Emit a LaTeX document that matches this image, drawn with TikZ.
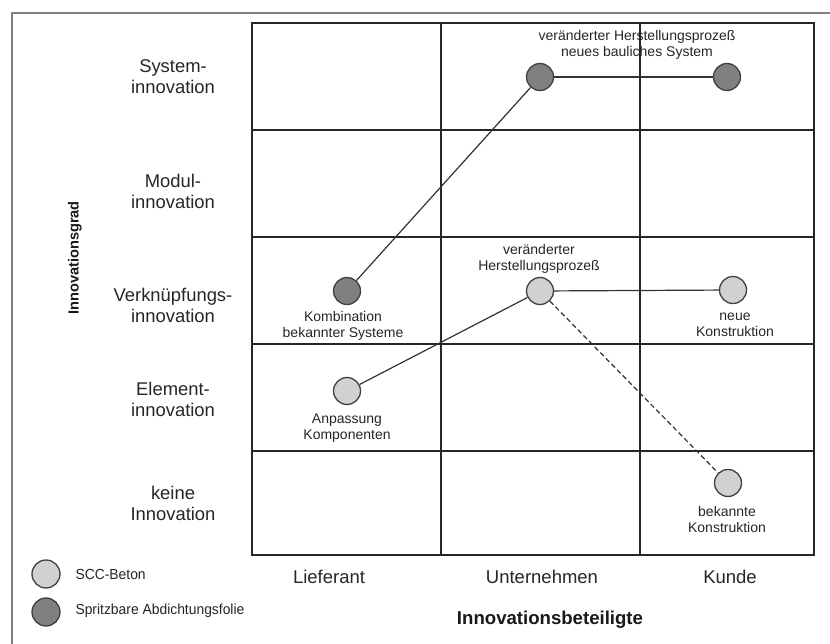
\documentclass[tikz,border=0pt]{standalone}
\usepackage{fontspec}
\setmainfont{Liberation Sans}
\newfontfamily\legendfont{Liberation Sans}[FakeStretch=0.95]
\begin{document}
\begin{tikzpicture}[x=1pt,y=-1pt,
  gridline/.style={draw=black!85, line width=1.4pt},
  frameline/.style={draw=black!50, line width=1.4pt},
  dot/.style={circle, minimum size=27pt, inner sep=0pt, draw=black!75, line width=1.3pt},
  scc/.style={dot, fill=black!18},
  folie/.style={dot, fill=black!50},
  link/.style={draw=black!80, line width=1.2pt},
  lbl/.style={align=center, font=\fontsize{14}{16}\selectfont, text=black!85},
  rowlbl/.style={align=center, font=\fontsize{18.4}{21}\selectfont, text=black!85},
  collbl/.style={font=\fontsize{18.5}{20}\selectfont, text=black!85},
  leg/.style={anchor=west, font=\legendfont\fontsize{14.6}{16}\selectfont, text=black!85},
]
\useasboundingbox (0,0) rectangle (830,644);
\fill[white] (0,0) rectangle (830,644);

% outer frame
\draw[frameline] (12,644) -- (12,13) -- (830,13);

% matrix grid
\draw[gridline] (252,23) rectangle (814,555);
\foreach \x in {441,640} \draw[gridline] (\x,23) -- (\x,555);
\foreach \y in {130,237,344,451} \draw[gridline] (252,\y) -- (814,\y);

% row labels (degree of innovation)
\node[rowlbl] (r1) at (173,77) {System-\\innovation};
\node[rowlbl] (r2) at (173,191) {Modul-\\innovation};
\node[rowlbl] (r3) at (173,305) {Verknüpfungs-\\innovation};
\node[rowlbl] (r4) at (173,399) {Element-\\innovation};
\node[rowlbl] (r5) at (173,503) {keine\\Innovation};
\node[rotate=90, text=black!90, font=\bfseries\fontsize{14.6}{16}\selectfont] (ylab) at (75,258) {Innovationsgrad};

% column labels (participants)
\node[collbl] (c1) at (329,577) {Lieferant};
\node[collbl] (c2) at (542,577) {Unternehmen};
\node[collbl] (c3) at (730,577) {Kunde};
\node[text=black!90, font=\bfseries\fontsize{18.6}{20}\selectfont] (xlab) at (550,620) {Innovationsbeteiligte};

% Spritzbare Abdichtungsfolie
\node[folie] (f1) at (347,291) {};
\node[folie] (f2) at (540,77) {};
\node[folie] (f3) at (727,77) {};

% SCC-Beton
\node[scc] (s1) at (347,391) {};
\node[scc] (s2) at (540,291) {};
\node[scc] (s3) at (733,290) {};
\node[scc] (s4) at (728,483) {};

% point labels
\node[lbl] (t1) at (637,45) {veränderter Herstellungsprozeß\\neues bauliches System};
\node[lbl] (t2) at (539,259) {veränderter\\Herstellungsprozeß};
\node[lbl] (t3) at (343,326) {Kombination\\bekannter Systeme};
\node[lbl] (t4) at (347,428) {Anpassung\\Komponenten};
\node[lbl] (t5) at (735,325) {neue\\Konstruktion};
\node[lbl] (t6) at (727,519) {bekannte\\Konstruktion};

% connectors
\draw[link] (f1) -- (f2);
\draw[link] (f2) -- (f3);
\draw[link] (s1) -- (s2);
\draw[link] (s2) -- (s3);
\draw[link, dash pattern=on 5pt off 3pt] (s2) -- (s4);

% legend
\node[scc, minimum size=28pt] (l1) at (46,574) {};
\node[folie, minimum size=28pt] (l2) at (46,612) {};
\node[leg] (lt1) at (72,574) {SCC-Beton};
\node[leg] (lt2) at (72,611) {Spritzbare Abdichtungsfolie};
\end{tikzpicture}
\end{document}
